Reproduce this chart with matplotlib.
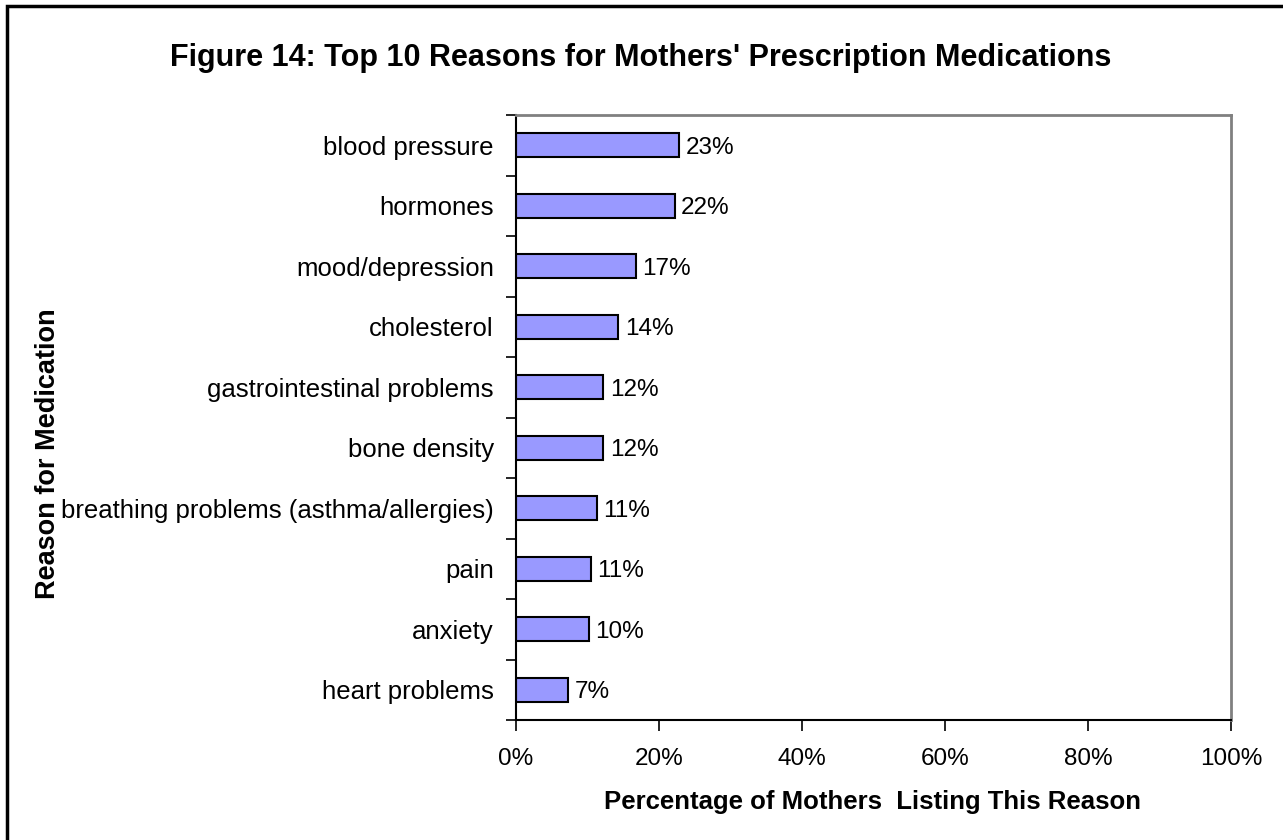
import matplotlib
matplotlib.use("Agg")
import matplotlib.pyplot as plt
from matplotlib.patches import Rectangle
import numpy as np

plt.rcParams['font.family'] = ['Liberation Sans', 'DejaVu Sans']

reasons = ["blood pressure", "hormones", "mood/depression", "cholesterol",
           "gastrointestinal problems", "bone density",
           "breathing problems (asthma/allergies)", "pain", "anxiety",
           "heart problems"]
pct = [22.8, 22.2, 16.8, 14.3, 12.2, 12.2, 11.3, 10.5, 10.2, 7.3]
pct_labels = ["23%", "22%", "17%", "14%", "12%", "12%", "11%", "11%", "10%", "7%"]
xticks = [0, 20, 40, 60, 80, 100]

fig = plt.figure(figsize=(12.83, 8.40), dpi=100)
ax = fig.add_axes([516/1283, 1-720/840, (1231-516)/1283, (720-115)/840])

y = np.arange(len(reasons))
ax.barh(y, pct, height=0.4, color='#9999FF', edgecolor='black', linewidth=1.5)
for yi, v, lab in zip(y, pct, pct_labels):
    ax.text(v + 0.9, yi, lab, va='center_baseline', ha='left', fontsize=17.5)

ax.set_xlim(0, 100)
ax.set_ylim(len(reasons) - 0.5, -0.5)
ax.set_xticks(xticks)
ax.set_xticklabels([f"{t}%" for t in xticks], fontsize=17.5)
ax.tick_params(axis='x', direction='out', length=8, width=1.2, pad=12)

# category labels at bar centres, tick marks between categories
ax.set_yticks(y)
ax.set_yticklabels(reasons, fontsize=18.5)
ax.tick_params(axis='y', which='major', length=0, pad=16)
ax.set_yticks(np.arange(len(reasons) + 1) - 0.5, minor=True)
ax.tick_params(axis='y', which='minor', direction='out', length=7, width=1.2)

for s in ['left', 'bottom']:
    ax.spines[s].set_color('black')
    ax.spines[s].set_linewidth(1.5)
for s in ['top', 'right']:
    ax.spines[s].set_color('#808080')
    ax.spines[s].set_linewidth(2)

fig.text(641/1283, 1-58/840, "Figure 14: Top 10 Reasons for Mothers' Prescription Medications",
         ha='center', va='center', fontsize=22, fontweight='bold')
fig.text(873/1283, 1-802/840, "Percentage of Mothers  Listing This Reason",
         ha='center', va='center', fontsize=18.5, fontweight='bold')
fig.text(48/1283, 1-454/840, "Reason for Medication", rotation=90,
         ha='center', va='center', fontsize=19.5, fontweight='bold')

fig.patches.append(Rectangle((7/1283, -0.05), 1.1, 1-6/840 + 0.05,
                             transform=fig.transFigure, fill=False,
                             edgecolor='black', linewidth=2.5))

plt.savefig("out.png", dpi=100)
